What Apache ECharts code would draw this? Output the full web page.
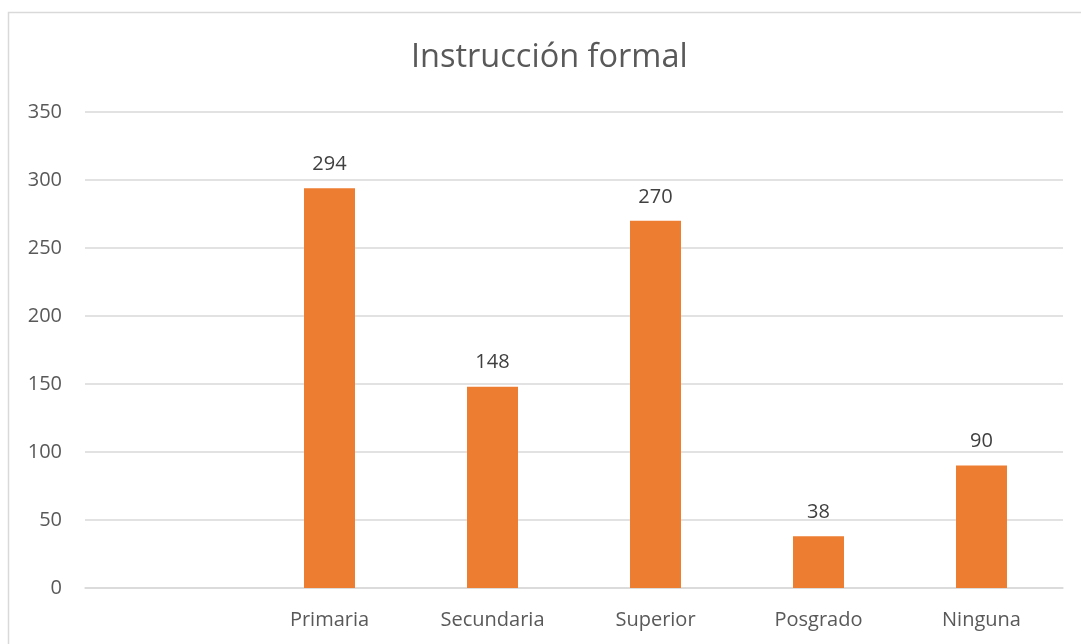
<!DOCTYPE html>
<html>
<head>
<meta charset="utf-8">
<script src="https://cdn.jsdelivr.net/npm/echarts@6/dist/echarts.min.js"></script>
<style>
  html, body { margin: 0; padding: 0; background: #fff; }
  #chart { width: 1081px; height: 644px; }
</style>
</head>
<body>
<div id="chart"></div>
<script>
// categorías (la primera va vacía, como en el original)
var categories = ['', 'Primaria', 'Secundaria', 'Superior', 'Posgrado', 'Ninguna']
var valores = [null, 294, 148, 270, 38, 90]
var yTicks = [0, 50, 100, 150, 200, 250, 300, 350]

var chart = echarts.init(document.getElementById('chart'))
chart.setOption({
  animation: false,
  textStyle: { fontFamily: 'Open Sans' },
  // marco del gráfico
  graphic: [{
    type: 'rect',
    shape: { x: 8.5, y: 12.5, width: 1100, height: 700 },
    style: { fill: 'none', stroke: '#d9d9d9', lineWidth: 1.5 },
    silent: true
  }],
  title: {
    text: 'Instrucción formal',
    left: 406,
    top: 36,
    textStyle: { fontFamily: 'Open Sans', fontSize: 32.5, fontWeight: 'normal', color: '#595959' }
  },
  grid: { left: 85, right: 18, top: 112, bottom: 56 },
  xAxis: {
    type: 'category',
    data: categories,
    axisLine: { lineStyle: { color: '#d9d9d9', width: 1.5 } },
    axisTick: { show: false },
    axisLabel: { color: '#595959', fontSize: 20, margin: 22 }
  },
  yAxis: {
    type: 'value',
    min: yTicks[0],
    max: yTicks[yTicks.length - 1],
    interval: 50,
    axisLine: { show: false },
    axisTick: { show: false },
    axisLabel: { color: '#595959', fontSize: 20, margin: 23 },
    splitLine: { lineStyle: { color: '#d9d9d9', width: 1.5 } }
  },
  series: [{
    type: 'bar',
    data: valores,
    barWidth: 51,
    itemStyle: { color: '#ED7D31' },
    label: {
      show: true,
      position: 'top',
      distance: 14,
      color: '#404040',
      fontSize: 20
    }
  }]
})
</script>
</body>
</html>
